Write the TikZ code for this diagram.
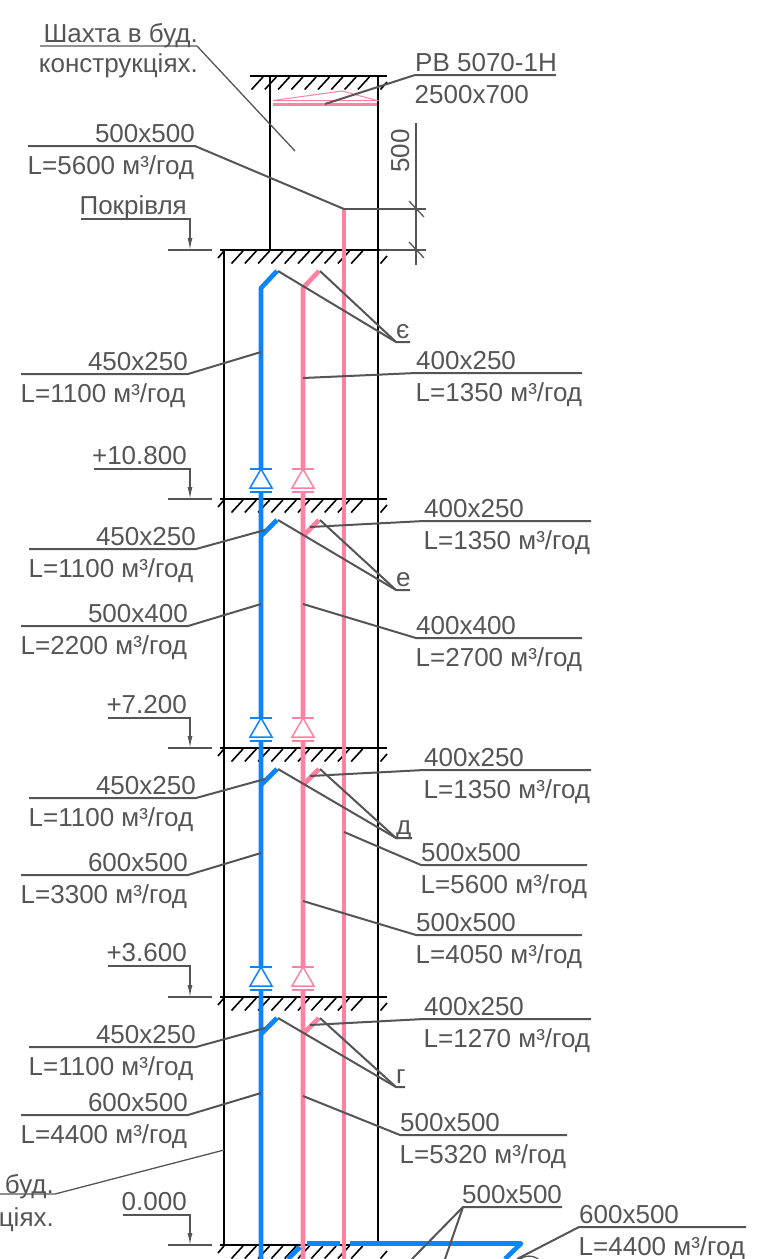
\documentclass[tikz,border=0pt]{standalone}
\usepackage{fontspec}
\setmainfont{Liberation Sans}
\usetikzlibrary{arrows.meta}

\definecolor{ductblue}{HTML}{0A84FF}
\definecolor{ductpink}{HTML}{FF82A2}
\definecolor{leadgray}{HTML}{555555}

\tikzset{
    txt/.style={font=\fontsize{26}{27}\selectfont, text=leadgray, inner sep=0pt},
    leader/.style={draw=leadgray, line width=2pt},
    thinlead/.style={draw=leadgray, line width=1.3pt},
    wall/.style={draw=black, line width=2pt},
    hatch/.style={draw=black, line width=1.6pt},
    bluepipe/.style={draw=ductblue, line width=4.7pt, line join=round},
    pinkpipe/.style={draw=ductpink, line width=4.7pt, line join=round},
}

% name, x0, x1, y, tip, upper text, lower text
\newcommand{\ductleft}[7]{
    \coordinate (#1-l) at (#2,#4);
    \coordinate (#1-r) at (#3,#4);
    \coordinate (#1-tip) at (#5);
    \node[txt, anchor=base east] (#1-up) at (#3,#4-4) {#6};
    \node[txt, anchor=base west] (#1-low) at (#2-0.5,#4+28) {#7};
    \draw[leader] (#1-l) -- (#1-r) -- (#1-tip);
}
\newcommand{\ductright}[7]{
    \coordinate (#1-l) at (#2,#4);
    \coordinate (#1-r) at (#3,#4);
    \coordinate (#1-tip) at (#5);
    \node[txt, anchor=base west] (#1-up) at (#2,#4-4) {#6};
    \node[txt, anchor=base west] (#1-low) at (#2-0.5,#4+28) {#7};
    \draw[leader] (#1-r) -- (#1-l) -- (#1-tip);
}
% name, y of tick, y of shelf, left end of shelf, text
\newcommand{\levelmark}[5]{
    \coordinate (#1-a) at (#4,#3);
    \coordinate (#1-b) at (190,#3);
    \coordinate (#1-c) at (190,#2);
    \node[txt, anchor=base east] (#1-t) at (187,#3-5) {#5};
    \draw[thinlead, -{Latex[length=12pt,width=5pt]}] (#1-a) -- (#1-b) -- (#1-c);
    \draw[thinlead] (168,#2) -- (212,#2);
}
% y of slab, x0, x1, first hatch
\newcommand{\slab}[4]{
    \draw[wall] (#2,#1) -- (#3,#1);
    \foreach \hx in {#4,...,376}
        \draw[hatch] (\hx,#1+1) -- (\hx-11.5,#1+13.5);
    \draw[hatch] (387,#1+6) -- (380.5,#1+13.5);
}
% x, y of slab, colour
\newcommand{\valve}[3]{
    \fill[white] (#1-11,#2-30) rectangle (#1+11,#2-7);
    \draw[draw=#3, line width=1.5pt, fill=white] (#1,#2-30) -- (#1+11,#2-11) -- (#1-11,#2-11) -- cycle;
    \draw[draw=#3, line width=1.5pt] (#1-11,#2-30) -- (#1+11,#2-30);
    \draw[draw=#3, line width=1.5pt] (#1-11,#2-7) -- (#1+11,#2-7);
}

\begin{document}
\begin{tikzpicture}[x=1pt,y=-1pt]
    \clip (0,0) rectangle (764,1259);

    % shaft
    \slab{76}{250}{387}{263,276.3}
    \draw[wall] (270,76) -- (270,250);
    \draw[wall] (378,76) -- (378,250);
    \draw[wall] (224,250) -- (224,1245);
    \draw[wall] (378,250) -- (378,1245);
    \foreach \lev in {250,499,748,997,1245} {
        \slab{\lev}{220}{387}{243,256.3}
        \draw[hatch] (224,\lev+1) -- (218,\lev+8);
    }

    % grille
    \draw[ductpink, line width=3pt] (273,104) -- (377,104);
    \draw[ductpink, line width=1pt] (273,100.5) -- (342,91) -- (377,100.5) -- cycle;

    % ducts
    \draw[pinkpipe] (344,1259) -- (344,209);
    \draw[bluepipe] (261,1259) -- (261,288) -- (277,271);
    \draw[pinkpipe] (303,1259) -- (303,288) -- (319,271);
    \foreach \lev in {499,748,997} {
        \draw[bluepipe] (261,\lev+37) -- (277,\lev+21);
        \draw[pinkpipe] (303,\lev+37) -- (319,\lev+21);
        \valve{261}{\lev}{ductblue}
        \valve{303}{\lev}{ductpink}
    }
    \draw[bluepipe] (288,1259) -- (300,1247);
    \draw[bluepipe] (307,1243.5) -- (340,1243.5);
    \draw[bluepipe] (350,1243.5) -- (521,1243.5) -- (505,1259);

    % dimension
    \draw[thinlead] (344,209) -- (426,209);
    \draw[thinlead] (380,250) -- (426,250);
    \draw[thinlead] (416,123) -- (416,265);
    \draw[thinlead] (409,201) -- (424,217);
    \draw[thinlead] (409,242) -- (424,258);
    \node[txt, rotate=90, anchor=base] (dimtxt) at (409,151) {500};

    % level marks
    \levelmark{roof}{250}{219}{81}{Покрівля}
    \levelmark{lev3}{499}{469}{94}{+10.800}
    \levelmark{lev2}{748}{718}{108}{+7.200}
    \levelmark{lev1}{997}{966}{108}{+3.600}
    \levelmark{lev0}{1245}{1215}{123}{0.000}

    % shaft notes
    \coordinate (shafta) at (40,46);
    \coordinate (shaftb) at (197,46);
    \coordinate (shaftc) at (295,151);
    \node[txt, anchor=base east] (shaftup) at (198,42) {Шахта в буд.};
    \node[txt, anchor=base east] (shaftlow) at (198,72) {конструкціях.};
    \draw[thinlead] (shafta) -- (shaftb) -- (shaftc);

    \coordinate (walla) at (-60,1194);
    \coordinate (wallb) at (55,1194);
    \coordinate (wallc) at (224,1150);
    \node[txt, anchor=base east] (wallup) at (54,1193) {Шахта в буд.};
    \node[txt, anchor=base east] (walllow) at (54,1226) {конструкціях.};
    \draw[thinlead] (walla) -- (wallb) -- (wallc);

    % duct labels
    \ductright{grille}{415}{556}{75}{325,104}{РВ 5070-1Н}{2500x700}
    \ductleft{main}{28}{195}{146}{344,209}{500x500}{L=5600 м³/год}

    \ductleft{bl4}{21}{188}{374}{261,352}{450x250}{L=1100 м³/год}
    \ductright{pk4}{416}{582}{373}{303,378}{400x250}{L=1350 м³/год}

    \ductleft{bt3}{29}{196}{549}{265,530}{450x250}{L=1100 м³/год}
    \ductright{pt3}{424}{591}{521}{310,527}{400x250}{L=1350 м³/год}
    \ductleft{bl3}{21}{188}{626}{261,604}{500x400}{L=2200 м³/год}
    \ductright{pk3}{416}{582}{638}{303,604}{400x400}{L=2700 м³/год}

    \ductleft{bt2}{29}{196}{798}{265,779}{450x250}{L=1100 м³/год}
    \ductright{pt2}{424}{591}{770}{310,776}{400x250}{L=1350 м³/год}
    \ductleft{bl2}{21}{188}{875}{261,853}{600x500}{L=3300 м³/год}
    \ductright{mn2}{421}{587}{865}{344,832}{500x500}{L=5600 м³/год}
    \ductright{pk2}{416}{582}{935}{303,901}{500x500}{L=4050 м³/год}

    \ductleft{bt1}{29}{196}{1047}{265,1028}{450x250}{L=1100 м³/год}
    \ductright{pt1}{424}{591}{1019}{310,1025}{400x250}{L=1270 м³/год}
    \ductleft{bl1}{21}{188}{1115}{261,1093}{600x500}{L=4400 м³/год}
    \ductright{pk1}{400}{567}{1135}{303,1096}{500x500}{L=5320 м³/год}

    \ductright{hor}{579}{746}{1227}{517,1259}{600x500}{L=4400 м³/год}
    \draw[thinlead] (518,1262) arc (200:340:12 and 9);

    \coordinate (risa) at (463,1207);
    \coordinate (risb) at (562,1207);
    \node[txt, anchor=base west] (risup) at (462,1203) {500x500};
    \draw[leader] (risb) -- (risa) -- (412,1259);
    \draw[leader] (risa) -- (445,1259);

    % letter marks
    \foreach \name/\y/\ltr/\xe/\ty in {ye/342/є/410/271, e/590/е/410/520, d/838/д/412/769, g/1087/г/405/1018} {
        \coordinate (\name-a) at (396,\y);
        \coordinate (\name-b) at (\xe,\y);
        \coordinate (\name-c) at (278,\ty);
        \coordinate (\name-d) at (320,\ty);
        \node[txt, anchor=base west] (\name-t) at (396,\y-4) {\ltr};
        \draw[leader] (\name-b) -- (\name-a) -- (\name-c);
        \draw[leader] (\name-a) -- (\name-d);
    }
\end{tikzpicture}
\end{document}
